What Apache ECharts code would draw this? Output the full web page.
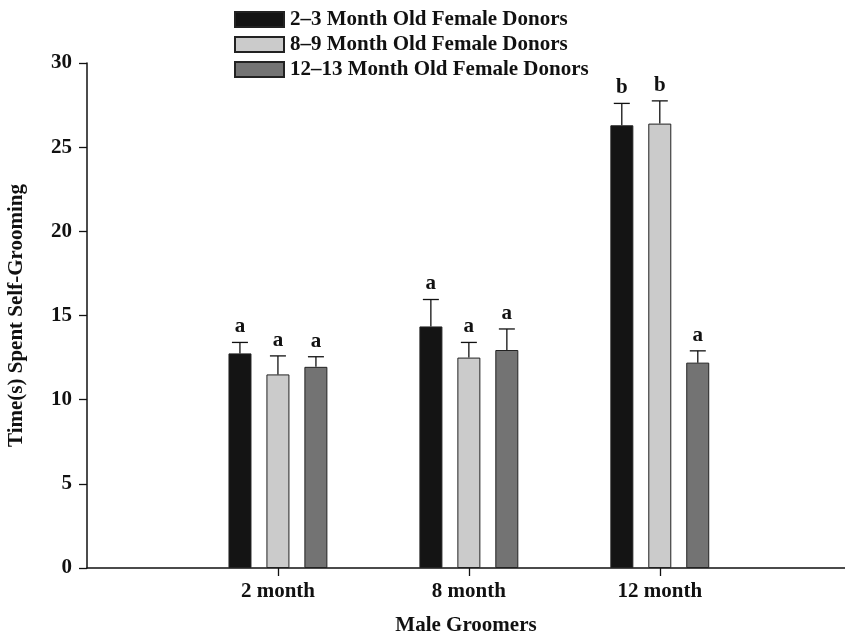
<!DOCTYPE html>
<html>
<head>
<meta charset="utf-8">
<script src="https://cdn.jsdelivr.net/npm/echarts@6/dist/echarts.min.js"></script>
<style>
  html, body { margin: 0; padding: 0; background: #fff; }
  #chart { width: 845px; height: 634px; }
</style>
</head>
<body>
<div id="chart"></div>
<script>
// groups on the x axis (placed at 1, 2, 3)
var groups = ['2 month', '8 month', '12 month']
var seriesNames = ['2–3 Month Old Female Donors', '8–9 Month Old Female Donors', '12–13 Month Old Female Donors']
// mean time per donor age, one value per male group
var youngMeans = [12.75, 14.35, 26.3]
var midMeans = [11.5, 12.5, 26.4]
var oldMeans = [11.95, 12.95, 12.2]
// upper error (SEM)
var youngErr = [0.65, 1.6, 1.3]
var midErr = [1.1, 0.9, 1.35]
var oldErr = [0.6, 1.25, 0.7]
// significance letters
var youngLetters = ['a', 'a', 'b']
var midLetters = ['a', 'a', 'b']
var oldLetters = ['a', 'a', 'a']

var colors = ['#141414', '#cbcbcb', '#737373']
var font = 'Liberation Serif, Times New Roman, serif'

var chart = echarts.init(document.getElementById('chart'))

function pairs(vals) {
  return vals.map(function (v, i) { return [i + 1, v] })
}
function errData(vals, errs) {
  return vals.map(function (v, i) { return [i + 1, v, errs[i]] })
}
// error bar + letter drawn above each bar
function errorSeries(vals, errs, letters, shift) {
  return {
    type: 'custom',
    data: errData(vals, errs),
    z: 5,
    silent: true,
    renderItem: function (params, api) {
      var base = api.coord([api.value(0), api.value(1)])
      var top = api.coord([api.value(0), api.value(1) + api.value(2)])
      var x = base[0] + shift
      return {
        type: 'group',
        children: [
          { type: 'line', shape: { x1: x, y1: base[1], x2: x, y2: top[1] }, style: { stroke: '#111', lineWidth: 1.3 } },
          { type: 'line', shape: { x1: x - 8, y1: top[1], x2: x + 8, y2: top[1] }, style: { stroke: '#111', lineWidth: 1.3 } },
          { type: 'text', x: x, y: top[1] - 5, style: { text: letters[params.dataIndex], fill: '#111', font: 'bold 21px ' + font, align: 'center', verticalAlign: 'bottom' } }
        ]
      }
    }
  }
}

chart.setOption({
  animation: false,
  grid: { left: 87, right: 0, top: 63, bottom: 66, outerBoundsMode: 'none' },
  legend: {
    data: seriesNames,
    orient: 'vertical',
    left: 229,
    top: 4,
    icon: 'rect',
    itemWidth: 49,
    itemHeight: 15,
    itemGap: 4,
    textStyle: { fontFamily: font, fontWeight: 'bold', fontSize: 21, color: '#111', lineHeight: 21, padding: [0, 0, 0, 1] }
  },
  xAxis: {
    type: 'value',
    min: 0,
    max: 3.97,
    interval: 1,
    name: 'Male Groomers',
    nameLocation: 'middle',
    nameGap: 47,
    nameTextStyle: { fontFamily: font, fontWeight: 'bold', fontSize: 21, color: '#111' },
    axisLine: { lineStyle: { color: '#111', width: 1.5 } },
    axisTick: { customValues: [1, 2, 3], length: 8, lineStyle: { color: '#111', width: 1.3 } },
    axisLabel: {
      customValues: [1, 2, 3],
      margin: 13,
      fontFamily: font, fontWeight: 'bold', fontSize: 21, color: '#111',
      formatter: function (v) { return groups[v - 1] || '' }
    },
    splitLine: { show: false }
  },
  yAxis: {
    type: 'value',
    min: 0,
    max: 30,
    interval: 5,
    name: 'Time(s) Spent Self-Grooming',
    nameLocation: 'middle',
    nameGap: 60,
    nameTextStyle: { fontFamily: font, fontWeight: 'bold', fontSize: 21, color: '#111' },
    axisLine: { show: true, lineStyle: { color: '#111', width: 1.5 } },
    axisTick: { show: true, length: 8, lineStyle: { color: '#111', width: 1.3 } },
    axisLabel: { margin: 15, fontFamily: font, fontWeight: 'bold', fontSize: 21, color: '#111' },
    splitLine: { show: false }
  },
  series: [
    { name: seriesNames[0], type: 'bar', data: pairs(youngMeans), barWidth: 23, barGap: '65%', itemStyle: { color: colors[0], borderColor: '#222', borderWidth: 1 } },
    { name: seriesNames[1], type: 'bar', data: pairs(midMeans), barWidth: 23, barGap: '65%', itemStyle: { color: colors[1], borderColor: '#222', borderWidth: 1 } },
    { name: seriesNames[2], type: 'bar', data: pairs(oldMeans), barWidth: 23, barGap: '65%', itemStyle: { color: colors[2], borderColor: '#222', borderWidth: 1 } },
    errorSeries(youngMeans, youngErr, youngLetters, -38),
    errorSeries(midMeans, midErr, midLetters, 0),
    errorSeries(oldMeans, oldErr, oldLetters, 38)
  ]
})
</script>
</body>
</html>
